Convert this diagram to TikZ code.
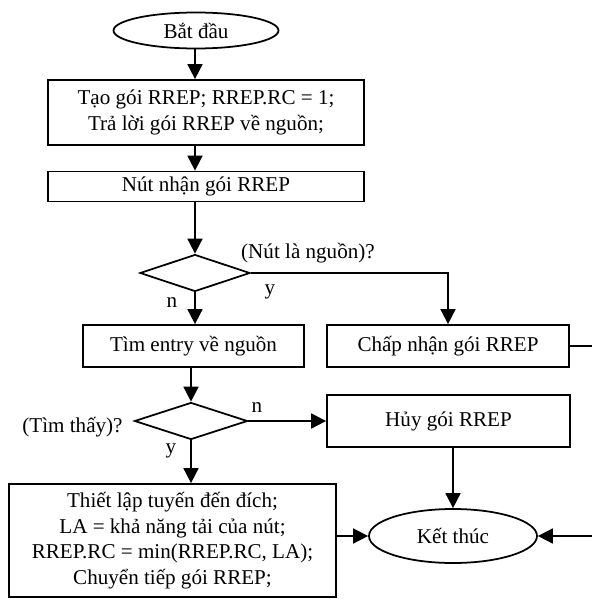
\documentclass[tikz,border=0pt]{standalone}
\usepackage{fontspec}
\setmainfont{Liberation Serif}
\usetikzlibrary{shapes.geometric, arrows.meta}

\tikzset{
    chu/.style={font=\fontsize{12}{14.5}\selectfont},
    hop/.style={chu, draw, line width=1pt, rectangle, align=center, inner sep=0pt},
    elip/.style={chu, draw, line width=1pt, ellipse, inner sep=0pt},
    thoi/.style={draw, line width=1pt, diamond, inner sep=0pt, minimum width=2.2cm, minimum height=0.74cm},
    duong/.style={line width=1pt},
    muiten/.style={duong, -{Triangle[length=0.3cm, width=0.3cm]}}
}

\begin{document}
\begin{tikzpicture}
    \useasboundingbox (0,0) rectangle (11.84,-11.98);

    % Bắt đầu
    \node[elip, minimum width=3.3cm, minimum height=0.72cm] (batdau) at (3.92,-0.61) {Bắt đầu};
    \node[hop, minimum width=6.32cm, minimum height=1.30cm] (tao) at (4.12,-2.25)
        {Tạo gói RREP; RREP.RC = 1;\\Trả lời gói RREP về nguồn;};
    \node[hop, minimum width=6.32cm, minimum height=0.60cm] (nhan) at (4.12,-3.73) {Nút nhận gói RREP};

    % Nút là nguồn?
    \node[thoi] (hoi1) at (3.90,-5.46) {};
    \node[chu, anchor=west] (nhan1) at (4.70,-5.07) {(Nút là nguồn)?};
    \node[chu] (y1) at (5.40,-5.84) {y};
    \node[chu] (n1) at (3.44,-6.06) {n};
    \node[hop, minimum width=4.42cm, minimum height=0.84cm] (tim) at (3.87,-6.92) {Tìm entry về nguồn};
    \node[hop, minimum width=4.84cm, minimum height=0.84cm] (chap) at (8.96,-6.92) {Chấp nhận gói RREP};

    % Tìm thấy?
    \node[thoi, minimum width=2.26cm] (hoi2) at (3.82,-8.42) {};
    \node[chu] (nhan2) at (1.45,-8.54) {(Tìm thấy)?};
    \node[chu] (n2) at (5.14,-8.16) {n};
    \node[chu] (y2) at (3.42,-9.02) {y};
    \node[hop, minimum width=4.86cm, minimum height=1.04cm] (huy) at (8.97,-8.42) {Hủy gói RREP};
    \node[hop, minimum width=6.54cm, minimum height=2.26cm] (thiet) at (3.45,-10.81)
        {Thiết lập tuyến đến đích;\\LA = khả năng tải của nút;\\RREP.RC = min(RREP.RC, LA);\\Chuyển tiếp gói RREP;};

    % Kết thúc
    \node[elip, minimum width=3.36cm, minimum height=1.08cm] (ketthuc) at (9.06,-10.72) {Kết thúc};

    % Mũi tên
    \draw[muiten] (batdau.south -| hoi1) -- (tao.north -| hoi1);
    \draw[muiten] (tao.south -| hoi1) -- (nhan.north -| hoi1);
    \draw[muiten] (nhan.south -| hoi1) -- (hoi1.north);
    \draw[muiten] (hoi1.south) -- (hoi1.south |- tim.north);
    \draw[muiten] (hoi1.east) -| (chap.north);
    \draw[muiten] (tim.south -| hoi2) -- (hoi2.north);
    \draw[muiten] (hoi2.east) -- (hoi2.east -| huy.west);
    \draw[muiten] (hoi2.south) -- (hoi2.south |- thiet.north);
    \draw[muiten] (ketthuc.north |- huy.south) -- (ketthuc.north);
    \draw[muiten] (thiet.east |- ketthuc.west) -- (ketthuc.west);
    \draw[muiten] (chap.east) -- ++(0.6,0) |- (ketthuc.east);
\end{tikzpicture}
\end{document}
